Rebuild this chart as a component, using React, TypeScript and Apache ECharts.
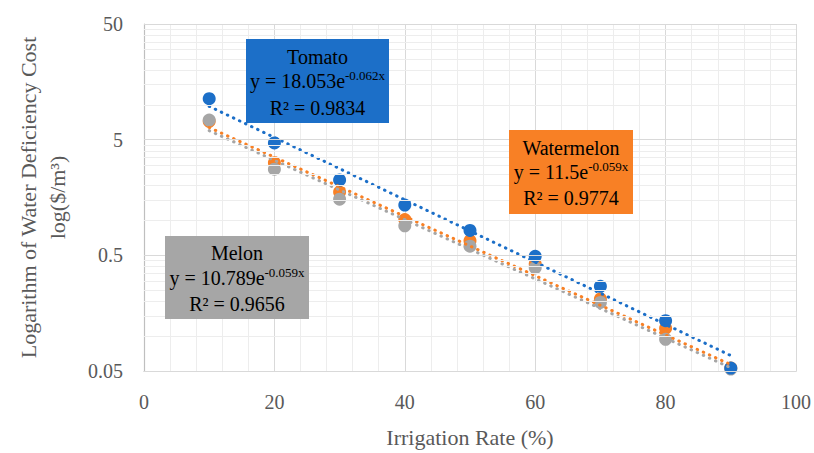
import React, { useEffect, useRef } from "react";
import * as echarts from "echarts";

// ---- data ----
const irrigation = [10, 20, 30, 40, 50, 60, 70, 80, 90];
const tomato = [11.3, 4.68, 2.24, 1.36, 0.82, 0.49, 0.27, 0.136, 0.053];
const watermelon = [7.2, 3.16, 1.76, 1.02, 0.67, 0.42, 0.21, 0.117, 0.053];
const melon = [7.38, 2.78, 1.53, 0.9, 0.6, 0.39, 0.196, 0.094, 0.052];

// exponential trendlines (straight on a log axis): end points at x = 10 and x = 90
const tomatoTrend = [[10, 9.71], [90, 0.068]];
const watermelonTrend = [[10, 6.37], [90, 0.0568]];
const melonTrend = [[10, 5.98], [90, 0.0533]];

// axis ticks
const xTicks = { min: 0, max: 100, interval: 20 };
const yMajor = [0.05, 0.5, 5, 50];
const yMinor = [
  0.1, 0.15, 0.2, 0.25, 0.3, 0.35, 0.4, 0.45,
  1, 1.5, 2, 2.5, 3, 3.5, 4, 4.5,
  10, 15, 20, 25, 30, 35, 40, 45,
];

// annotation texts
const labels = [
  { name: "Tomato", coef: "y = 18.053e", exp: "-0.062x", r2: "R² = 0.9834" },
  { name: "Watermelon", coef: "y = 11.5e", exp: "-0.059x", r2: "R² = 0.9774" },
  { name: "Melon", coef: "y = 10.789e", exp: "-0.059x", r2: "R² = 0.9656" },
];

const FONT = '"Liberation Serif", "Times New Roman", serif';
const BLUE = "#1c6fc8";
const ORANGE = "#f88025";
const GRAY = "#a6a6a6";
const AXIS_TEXT = "#595959";

function pair(xs: number[], ys: number[]) {
  return xs.map((x, i) => [x, ys[i]]);
}

function box(
  x: number, y: number, w: number, h: number, fill: string,
  info: { name: string; coef: string; exp: string; r2: string },
  lineY: number[]
) {
  const cx = x + w / 2;
  const base = { fontFamily: FONT, fontSize: 20, fill: "#000" };
  return [
    { type: "rect", z: 20, shape: { x, y, width: w, height: h }, style: { fill } },
    {
      type: "text", z: 21, x: cx, y: lineY[0],
      style: { ...base, text: info.name, align: "center", verticalAlign: "middle" },
    },
    {
      type: "text", z: 21, x: cx, y: lineY[1],
      style: {
        text: `{n|${info.coef}}{s|${info.exp}}`,
        align: "center", verticalAlign: "middle",
        rich: {
          n: { ...base, lineHeight: 24 },
          s: { fontFamily: FONT, fontSize: 13, fill: "#000", lineHeight: 14, verticalAlign: "top" },
        },
      },
    },
    {
      type: "text", z: 21, x: cx, y: lineY[2],
      style: { ...base, text: info.r2, align: "center", verticalAlign: "middle" },
    },
  ];
}

export default function App() {
  const ref = useRef<HTMLDivElement>(null);
  useEffect(() => {
    if (!ref.current) return;
    const chart = echarts.init(ref.current, null, { renderer: "svg" });
    const dotted = (color: string) => ({
      color, width: 3, type: [0.5, 6.2], cap: "round",
    });
    chart.setOption({
      animation: false,
      backgroundColor: "#ffffff",
      grid: { left: 144, right: 15, top: 24, bottom: 76 },
      xAxis: {
        type: "value",
        min: xTicks.min,
        max: xTicks.max,
        interval: xTicks.interval,
        axisLine: { show: true, onZero: false, lineStyle: { color: "#bfbfbf", width: 1.2 } },
        axisTick: { show: false },
        axisLabel: { color: AXIS_TEXT, fontSize: 20, fontFamily: FONT, margin: 21 },
        splitLine: { show: true, lineStyle: { color: "#d9d9d9", width: 1 } },
        minorTick: { show: false, splitNumber: 5 },
        minorSplitLine: { show: true, lineStyle: { color: "#ededed", width: 1 } },
        name: "Irrigation Rate (%)",
        nameLocation: "middle",
        nameGap: 55,
        nameTextStyle: { color: AXIS_TEXT, fontSize: 22, fontFamily: FONT },
      },
      yAxis: {
        type: "log",
        logBase: 10,
        min: yMajor[0],
        max: yMajor[yMajor.length - 1],
        axisLine: { show: true, onZero: false, lineStyle: { color: "#bfbfbf", width: 1.2 } },
        axisTick: { show: false },
        axisLabel: { show: false },
        splitLine: { show: false },
        name: "Logarithm of Water Deficiency Cost\nlog($/m³)",
        nameLocation: "middle",
        nameGap: 72,
        nameRotate: 90,
        nameTextStyle: { color: AXIS_TEXT, fontSize: 22, lineHeight: 29, fontFamily: FONT, align: "center" },
      },
      series: [
        {
          type: "line", data: [], silent: true, z: 0,
          markLine: {
            silent: true, symbol: ["none", "none"], animation: false,
            lineStyle: { color: "#ededed", width: 1, type: "solid" },
            label: { show: false },
            data: yMinor.map((v) => ({ yAxis: v })),
          },
        },
        {
          type: "line", data: [], silent: true, z: 0,
          markLine: {
            silent: true, symbol: ["none", "none"], animation: false,
            lineStyle: { color: "#d9d9d9", width: 1, type: "solid" },
            label: {
              show: true, position: "start", distance: 21,
              formatter: (p: any) => String(p.value),
              color: AXIS_TEXT, fontSize: 20, fontFamily: FONT,
            },
            emphasis: { disabled: true },
            data: yMajor.map((v) => ({ yAxis: v })),
          },
        },
        {
          name: "Watermelon", type: "scatter", data: pair(irrigation, watermelon),
          symbolSize: 13, itemStyle: { color: ORANGE, opacity: 1 }, z: 2,
        },
        {
          name: "Melon", type: "scatter", data: pair(irrigation, melon),
          symbolSize: 13, itemStyle: { color: GRAY, opacity: 1 }, z: 2,
        },
        {
          name: "Tomato", type: "scatter", data: pair(irrigation, tomato),
          symbolSize: 13, itemStyle: { color: BLUE, opacity: 1 }, z: 2,
        },
        {
          name: "Melon trend", type: "line", data: melonTrend, symbol: "none",
          lineStyle: dotted(GRAY), z: 3, silent: true,
        },
        {
          name: "Watermelon trend", type: "line", data: watermelonTrend, symbol: "none",
          lineStyle: dotted(ORANGE), z: 3, silent: true,
        },
        {
          name: "Tomato trend", type: "line", data: tomatoTrend, symbol: "none",
          lineStyle: dotted(BLUE), z: 3, silent: true,
        },
      ],
      graphic: [
        ...box(246, 39, 143, 84, BLUE, labels[0], [57, 81, 108]),
        ...box(509, 130, 124, 84, ORANGE, labels[1], [148, 172, 198]),
        ...box(165, 236, 144, 83, GRAY, labels[2], [253, 278, 304]),
      ],
    });
    return () => chart.dispose();
  }, []);
  return (
    <div
      ref={ref}
      style={{ position: "fixed", left: 0, top: 0, width: 814, height: 453 }}
    />
  );
}
